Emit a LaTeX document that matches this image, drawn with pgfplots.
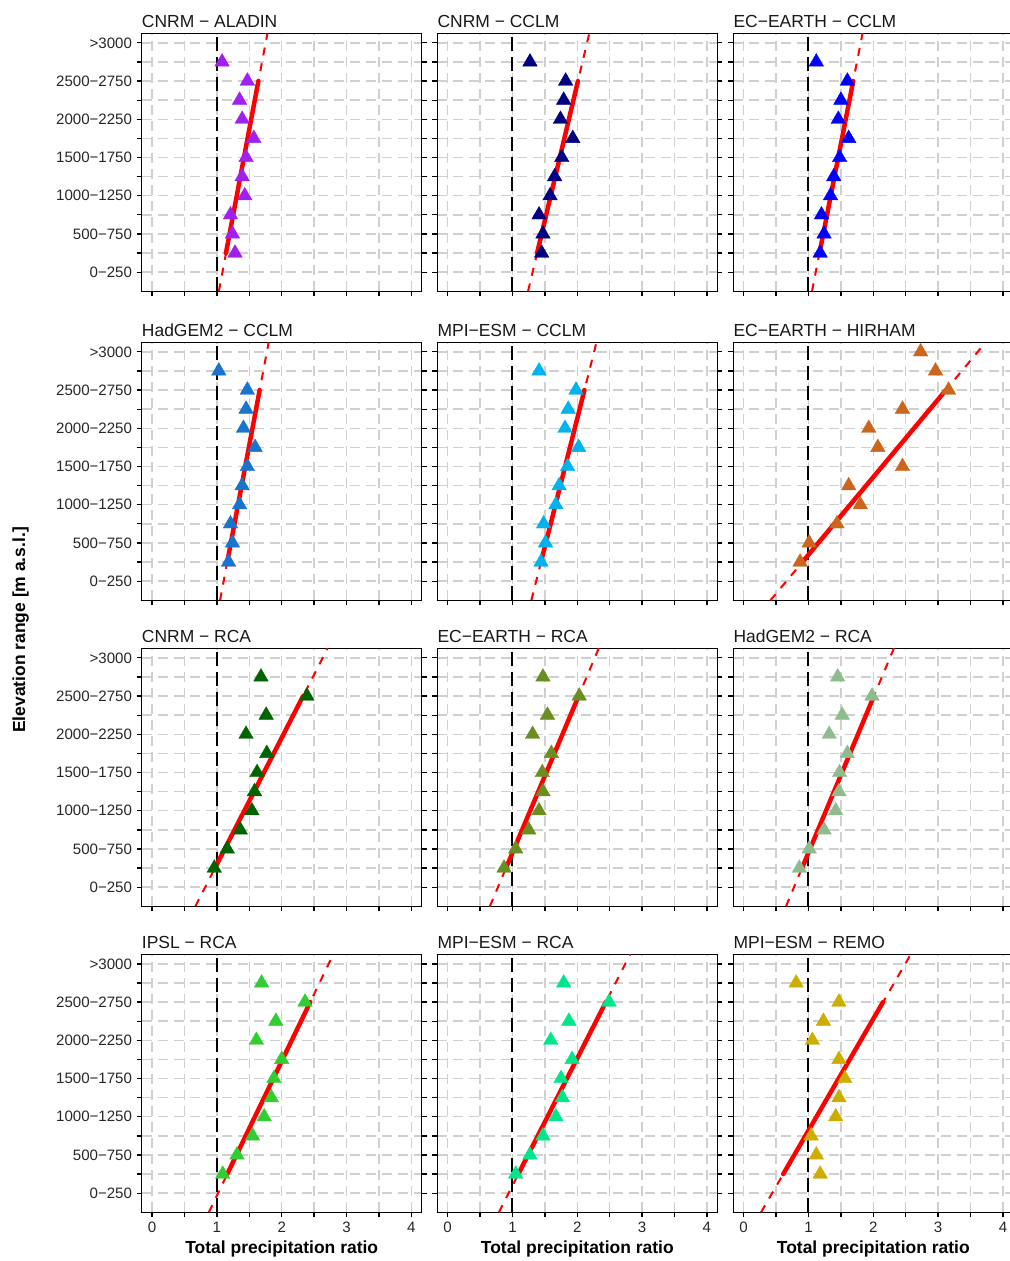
\documentclass[border=0pt]{standalone}
\usepackage{fontspec}
\setmainfont{Liberation Sans}
\usepackage{pgfplots}
\pgfplotsset{compat=1.18}
\newlength\px
\setlength\px{0.75pt}
\definecolor{gridc}{HTML}{D0D0D0}
\definecolor{cA}{HTML}{A020F0}
\definecolor{cB}{HTML}{000080}
\definecolor{cC}{HTML}{0000FF}
\definecolor{cD}{HTML}{1874CD}
\definecolor{cE}{HTML}{00B2EE}
\definecolor{cF}{HTML}{CD661D}
\definecolor{cG}{HTML}{006400}
\definecolor{cH}{HTML}{6B8E23}
\definecolor{cI}{HTML}{8FBC8F}
\definecolor{cJ}{HTML}{32CD32}
\definecolor{cK}{HTML}{00E68A}
\definecolor{cL}{HTML}{CDAD00}
\newcommand\ticksize{\fontsize{11.3pt}{13pt}\selectfont}
\newcommand\titlesize{\fontsize{13.1pt}{15pt}\selectfont}
\newcommand\labsize{\fontsize{13.1pt}{15pt}\selectfont\bfseries}
\pgfplotsset{
  base/.style={
    scale only axis, width=280\px, height=258\px, anchor=north west,
    xmin=-0.16, xmax=4.16, ymin=0, ymax=13.5,
    xtick={0,0.5,1,1.5,2,2.5,3,3.5,4}, ytick={1,2,3,4,5,6,7,8,9,10,11,12,13},
    xticklabels={}, yticklabels={},
    xtick pos=lower, ytick pos=both, yticklabel pos=lower,
    tick align=outside, major tick length=5\px,
    every tick/.style={black, line width=1.3\px},
    axis line style={black, line width=1.5\px},
    grid=major, major grid style={color=gridc, line width=1.5\px, dash pattern=on 10\px off 6\px},
    tick label style={font=\ticksize, text=black!85},
    every axis title shift=0pt,
    title style={anchor=base west, at={(0,1)}, yshift=6\px, inner sep=0pt, font=\titlesize, text=black!90},
    xlabel style={at={(axis description cs:0.5,0)}, anchor=base, yshift=-41.5\px, inner sep=0pt, font=\labsize},
  },
  leftcol/.style={yticklabels={0−250,,500−750,,1000−1250,,1500−1750,,2000−2250,,2500−2750,,>3000}},
  botrow/.style={xticklabels={0,,1,,2,,3,,4}, xlabel={Total precipitation ratio}},
}
\newcommand\panel[8]{%
\begin{axis}[base, at={(#1\px,#2\px)}, #3, title={#4}]
\addplot[black, line width=2\px, dash pattern=on 14\px off 6\px] coordinates {(1,0) (1,13.5)};
\addplot[only marks, mark=triangle*, mark size=8.4\px, color=#5, mark options={draw=#5, fill=#5, line width=0.4\px}] coordinates {#6};
\addplot[red, line width=2\px, dash pattern=on 8\px off 8\px] coordinates {#8};
\addplot[red, line width=4.5\px, line cap=round] coordinates {#7};
\end{axis}}
\begin{document}
\begin{tikzpicture}
% row 1
\panel{141.7}{1227.7}{leftcol}{CNRM − ALADIN}{cA}
 {(1.08,12)(1.47,11)(1.35,10)(1.39,9)(1.57,8)(1.45,7)(1.39,6)(1.43,5)(1.21,4)(1.24,3)(1.28,2)}
 {(1.14,2)(1.64,11)}{(1.03,0)(1.78,13.5)}
\panel{437.3}{1227.7}{}{CNRM − CCLM}{cB}
 {(1.27,12)(1.82,11)(1.79,10)(1.74,9)(1.93,8)(1.76,7)(1.65,6)(1.58,5)(1.41,4)(1.47,3)(1.45,2)}
 {(1.38,2)(2.01,11)}{(1.24,0)(2.185,13.5)}
\panel{733.3}{1227.7}{}{EC−EARTH − CCLM}{cC}
 {(1.12,12)(1.60,11)(1.50,10)(1.46,9)(1.62,8)(1.48,7)(1.39,6)(1.34,5)(1.20,4)(1.24,3)(1.18,2)}
 {(1.17,2)(1.69,11)}{(1.054,0)(1.834,13.5)}
% row 2
\panel{141.7}{918.7}{leftcol}{HadGEM2 − CCLM}{cD}
 {(1.03,12)(1.47,11)(1.45,10)(1.41,9)(1.59,8)(1.47,7)(1.39,6)(1.35,5)(1.21,4)(1.24,3)(1.18,2)}
 {(1.16,2)(1.66,11)}{(1.049,0)(1.799,13.5)}
\panel{437.3}{918.7}{}{MPI−ESM − CCLM}{cE}
 {(1.41,12)(1.98,11)(1.86,10)(1.81,9)(2.02,8)(1.85,7)(1.72,6)(1.67,5)(1.48,4)(1.51,3)(1.44,2)}
 {(1.44,2)(2.11,11)}{(1.291,0)(2.296,13.5)}
\panel{733.3}{918.7}{}{EC−EARTH − HIRHAM}{cF}
 {(2.73,13)(2.96,12)(3.16,11)(2.45,10)(1.93,9)(2.07,8)(2.45,7)(1.62,6)(1.80,5)(1.44,4)(1.01,3)(0.87,2)}
 {(0.905,2)(3.12,11)}{(0.413,0)(3.735,13.5)}
% row 3
\panel{141.7}{612.7}{leftcol}{CNRM − RCA}{cG}
 {(1.68,12)(2.39,11)(1.76,10)(1.45,9)(1.77,8)(1.62,7)(1.58,6)(1.54,5)(1.36,4)(1.16,3)(0.96,2)}
 {(0.97,2)(2.33,11)}{(0.668,0)(2.708,13.5)}
\panel{437.3}{612.7}{}{EC−EARTH − RCA}{cH}
 {(1.47,12)(2.03,11)(1.54,10)(1.31,9)(1.60,8)(1.46,7)(1.47,6)(1.41,5)(1.25,4)(1.05,3)(0.87,2)}
 {(0.90,2)(2.02,11)}{(0.651,0)(2.331,13.5)}
\panel{733.3}{612.7}{}{HadGEM2 − RCA}{cI}
 {(1.45,12)(1.98,11)(1.52,10)(1.32,9)(1.60,8)(1.48,7)(1.47,6)(1.42,5)(1.24,4)(1.01,3)(0.86,2)}
 {(0.90,2)(2.01,11)}{(0.653,0)(2.318,13.5)}
% row 4
\panel{141.7}{306.7}{leftcol,botrow}{IPSL − RCA}{cJ}
 {(1.69,12)(2.36,11)(1.91,10)(1.61,9)(2.00,8)(1.88,7)(1.84,6)(1.73,5)(1.55,4)(1.31,3)(1.09,2)}
 {(1.16,2)(2.44,11)}{(0.876,0)(2.796,13.5)}
\panel{437.3}{306.7}{botrow}{MPI−ESM − RCA}{cK}
 {(1.79,12)(2.49,11)(1.87,10)(1.59,9)(1.92,8)(1.75,7)(1.77,6)(1.67,5)(1.47,4)(1.27,3)(1.05,2)}
 {(1.09,2)(2.44,11)}{(0.79,0)(2.815,13.5)}
\panel{733.3}{306.7}{botrow}{MPI−ESM − REMO}{cL}
 {(0.81,12)(1.47,11)(1.23,10)(1.06,9)(1.47,8)(1.56,7)(1.47,6)(1.42,5)(1.04,4)(1.12,3)(1.18,2)}
 {(0.61,2)(2.15,11)}{(0.268,0)(2.578,13.5)}
\node[rotate=90, font=\labsize, anchor=base, inner sep=0pt] at (25\px,631\px) {Elevation range [m a.s.l.]};
\pgfresetboundingbox
\useasboundingbox (0,0) rectangle (1010\px,1261\px);
\end{tikzpicture}
\end{document}
